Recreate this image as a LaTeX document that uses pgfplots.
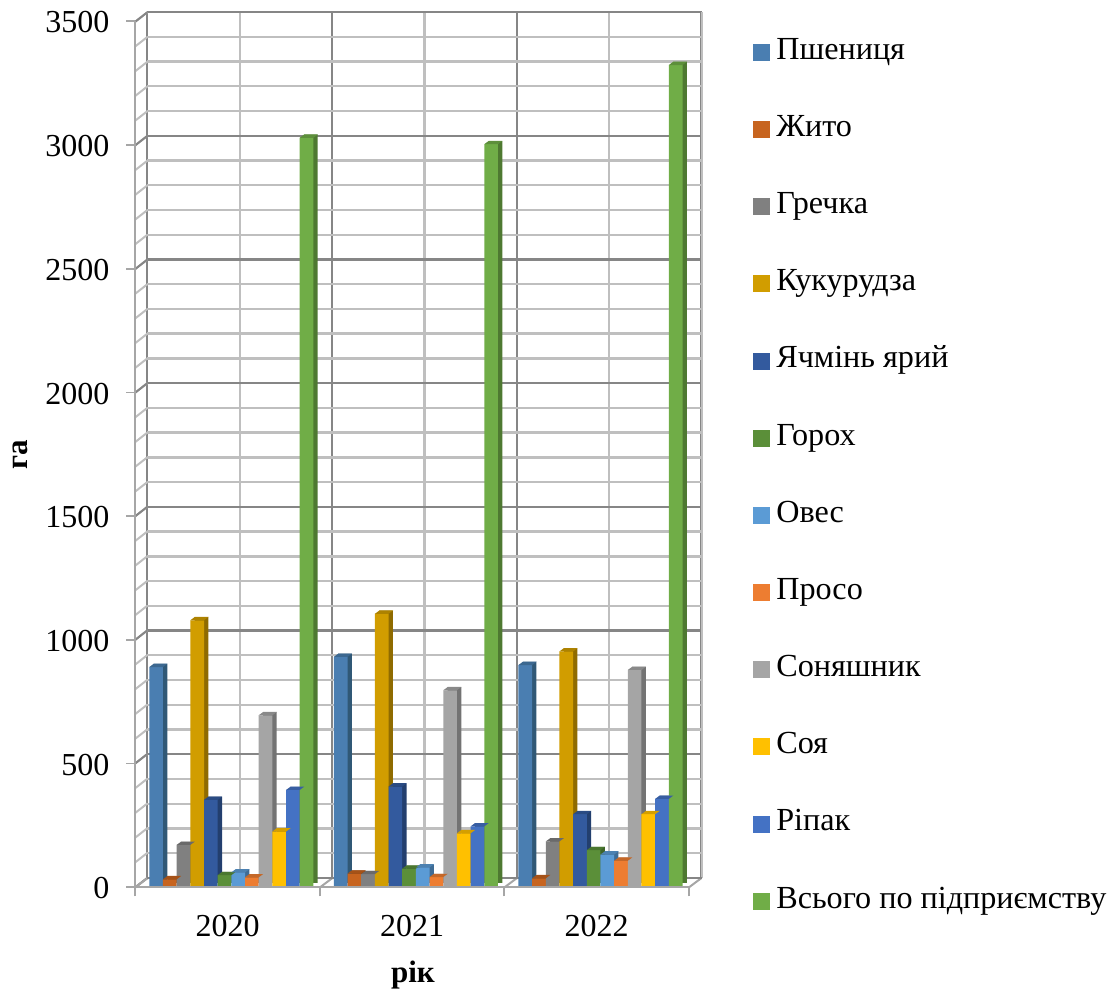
\documentclass[border=0pt]{standalone}
\usepackage{pgfplots}
\usepackage{pgfplotstable}
\usepackage{fontspec}
\setmainfont{Liberation Serif}
\pgfplotsset{compat=1.18}
\pgfplotstableread{
year wheat rye buck corn barley pea oat millet sun soy rape total
2020 885 27 166 1074 348 44 55 35 690 220 388 3024
2021 926 50 48 1100 402 70 75 36 791 213 241 2998
2022 893 31 180 948 290 145 127 102 873 290 352 3318
}\crops
\definecolor{gmaj}{HTML}{868686}
\definecolor{gmin}{HTML}{BFBFBF}
\definecolor{gax}{HTML}{A6A6A6}
\pgfdeclareplotmark{topface}{%
  \pgfpathmoveto{\pgfpoint{-4.1pt}{0pt}}%
  \pgfpathlineto{\pgfpoint{4.1pt}{0pt}}%
  \pgfpathlineto{\pgfpoint{6.8pt}{2pt}}%
  \pgfpathlineto{\pgfpoint{-1.4pt}{2pt}}%
  \pgfpathclose\pgfusepathqfill}
% #1 index, #2 column, #3 front, #4 side, #5 top, #6 legend text
\newcommand\cropbar[6]{%
  \definecolor{cf#1}{HTML}{#3}\definecolor{cs#1}{HTML}{#4}\definecolor{ct#1}{HTML}{#5}%
  \addplot[ybar,bar shift=0pt,bar width=8.2pt,fill=cs#1,draw=none,forget plot,xshift=2.6pt,yshift=1.9pt]
    table[x expr=\coordindex+(14+13.67*(#1+0.5))/184.5,y=#2]{\crops};
  \addplot[only marks,mark=topface,mark options={fill=ct#1,draw=none},forget plot]
    table[x expr=\coordindex+(14+13.67*(#1+0.5))/184.5,y=#2]{\crops};
  \addplot[ybar,bar shift=0pt,bar width=8.2pt,fill=cf#1,draw=none,
    legend image code/.code={\fill[cf#1] (0pt,-5.1pt) rectangle (10.2pt,5.1pt);}]
    table[x expr=\coordindex+(14+13.67*(#1+0.5))/184.5,y=#2]{\crops};
  \addlegendentry{#6}%
}
\begin{document}
\begin{tikzpicture}
\useasboundingbox (0,0) rectangle (669pt,593.4pt);
% back wall
\begin{axis}[at={(88.38pt,66.6pt)},anchor=origin,scale only axis,width=332.6pt,height=519.6pt,
  xmin=0,xmax=3,ymin=0,ymax=3500,
  xtick={0,1,2,3},minor xtick={0.5,1.5,2.5},
  ytick={0,500,...,3500},minor ytick={100,200,...,3400},
  xticklabels={},yticklabels={},
  major tick length=0pt,minor tick length=0pt,
  axis line style={draw=none},
  grid=both,
  major grid style={gmaj,line width=1.4pt},
  minor grid style={gmin,line width=1.4pt}]
\end{axis}
% side wall diagonals and floor
\begin{scope}[shift={(0pt,593.4pt)},x=0.6pt,y=-0.6pt]
\foreach \v in {21.7,46.4,71.2,95.9,120.6,145.3,170.1,194.8,219.5,244.2,269,293.7,318.4,343.1,367.8,392.6,417.3,442,466.7,491.5,516.2,540.9,565.6,590.3,615.1,639.8,664.5,689.2,714,738.7,763.4,788.1,812.9,837.6,862.3,887.3}
  \draw[gmin,line width=1.2pt] (135.3,\v) -- (147.3,\v-9.4);
\foreach \v in {21.7,145.3,269,392.6,516.2,639.8,763.4,887.3}
  \draw[gmaj,line width=1.2pt] (135.3,\v) -- (147.3,\v-9.4);
\foreach \v in {135.3,320,504.5,689}
  \draw[gax,line width=1.2pt] (\v,887.3) -- (\v+12.5,878);
\draw[gmin,line width=1.4pt] (701.7,878) -- (701.7,12.3);
\draw[gmaj,line width=1.4pt] (147.3,878) -- (701.7,878);
\end{scope}
% front axis with ticks
\begin{axis}[at={(81.18pt,61.02pt)},anchor=origin,scale only axis,width=332.2pt,height=519.6pt,
  xmin=0,xmax=3,ymin=0,ymax=3500,
  axis x line=bottom,axis y line=left,
  axis line style={gax,line width=1.4pt,-},
  tick style={gax,line width=1.1pt},
  tick align=outside,major tick length=5.5pt,
  xtick={0,1,2,3},xticklabels={2020,2021,2022},x tick label as interval=true,
  ytick={0,500,...,3500},
  /pgf/number format/assume math mode=true,
  /pgf/number format/1000 sep={},
  tick label style={font=\fontsize{19.2pt}{20pt}\selectfont,black},
  yticklabel style={xshift=-6.5pt,yshift=-0.7pt},
  xticklabel style={yshift=-8pt},
  xlabel={\textbf{рік}},ylabel={\textbf{га}},
  label style={font=\fontsize{18.6pt}{20pt}\selectfont,black},
  xlabel style={at={(rel axis cs:0.5015,-0.101)},anchor=center},
  ylabel style={at={(rel axis cs:-0.208,0.499)},anchor=center,rotate=0}]
\end{axis}
% bars
\begin{axis}[at={(81.18pt,61.8pt)},anchor=origin,scale only axis,width=332.2pt,height=519.6pt,
  xmin=0,xmax=3,ymin=0,ymax=3500,clip=false,
  axis line style={draw=none},xtick=\empty,ytick=\empty,
  legend cell align=left,
  legend style={draw=none,fill=none,at={(0.0,0.0)},anchor=south west,
    xshift=370.4pt,yshift=-17pt,
    font=\fontsize{19.3pt}{20pt}\selectfont,
    row sep=30.6pt,inner sep=0pt,outer sep=0pt,
    nodes={text height=12pt,text depth=3.7pt,inner sep=0pt,outer sep=0pt},
    /tikz/column 1/.style={column sep=4pt}}]
\cropbar{0}{wheat}{4A7EB1}{305876}{3C6890}{Пшениця}
\cropbar{1}{rye}{C7641F}{8A4513}{A55218}{Жито}
\cropbar{2}{buck}{808080}{5A5A5A}{6A6A6A}{Гречка}
\cropbar{3}{corn}{D19D00}{8F6B00}{AD8200}{Кукурудза}
\cropbar{4}{barley}{335A9E}{233F6E}{2A4B83}{Ячмінь ярий}
\cropbar{5}{pea}{5B8F39}{3E6327}{4A772F}{Горох}
\cropbar{6}{oat}{5B9BD5}{3F6C95}{4C81B1}{Овес}
\cropbar{7}{millet}{ED7D31}{A55722}{C46829}{Просо}
\cropbar{8}{sun}{A5A5A5}{737373}{898989}{Соняшник}
\cropbar{9}{soy}{FFC000}{B28600}{D49F00}{Соя}
\cropbar{10}{rape}{4472C4}{2F4F88}{385EA2}{Ріпак}
\cropbar{11}{total}{70AD47}{4E7931}{5D8F3B}{Всього по підприємству}
\end{axis}
\end{tikzpicture}
\end{document}
